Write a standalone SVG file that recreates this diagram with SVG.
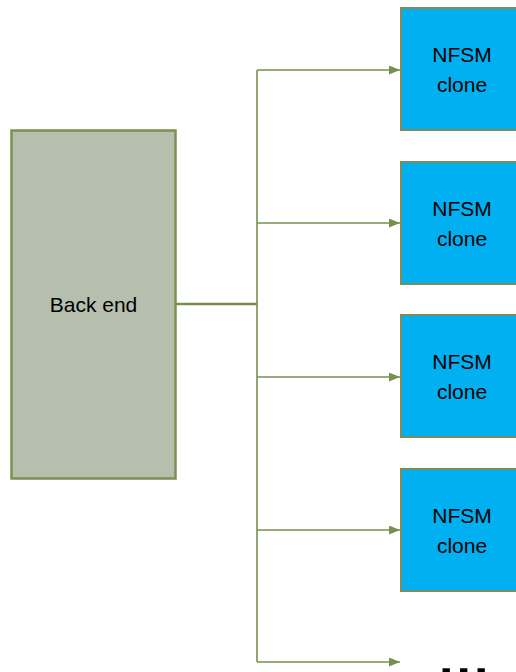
<svg xmlns="http://www.w3.org/2000/svg" width="516" height="672" viewBox="0 0 516 672">
  <defs>
    <marker id="arrow" viewBox="0 0 11 9" refX="11" refY="4.5" markerWidth="11" markerHeight="9" markerUnits="userSpaceOnUse" orient="auto">
      <path d="M0,0 L11,4.5 L0,9 Z" fill="#76904f"/>
    </marker>
    <style>
      .backend { fill: #b6bead; stroke: #7a9152; stroke-width: 2.5; }
      .clone { fill: #00b0f0; stroke: #7d8c5c; stroke-width: 2; }
      .label { font-family: "Liberation Sans", Arial, sans-serif; font-size: 21px; fill: #000; text-anchor: middle; }
      .wire { fill: none; stroke: #76904f; stroke-width: 1.6; }
      .feed { fill: none; stroke: #76904f; stroke-width: 2.6; }
    </style>
  </defs>

  <rect width="516" height="672" fill="#ffffff"/>

  <!-- connectors -->
  <g id="connectors">
    <line class="feed" x1="176" y1="304" x2="257" y2="304"/>
    <line class="wire" x1="257" y1="70" x2="257" y2="662"/>
    <line class="wire" x1="257" y1="70" x2="400" y2="70" marker-end="url(#arrow)"/>
    <line class="wire" x1="257" y1="223" x2="400" y2="223" marker-end="url(#arrow)"/>
    <line class="wire" x1="257" y1="377" x2="400" y2="377" marker-end="url(#arrow)"/>
    <line class="wire" x1="257" y1="530" x2="400" y2="530" marker-end="url(#arrow)"/>
    <line class="wire" x1="257" y1="662" x2="400" y2="662" marker-end="url(#arrow)"/>
  </g>

  <!-- back end -->
  <g id="backend">
    <rect class="backend" x="11.5" y="130.5" width="164" height="348"/>
    <text class="label" x="93.5" y="312" font-size="22">Back end</text>
  </g>

  <!-- clones -->
  <g id="clone1">
    <rect class="clone" x="401" y="8" width="124" height="122"/>
    <text class="label" x="462" y="62">NFSM</text>
    <text class="label" x="462" y="92">clone</text>
  </g>
  <g id="clone2">
    <rect class="clone" x="401" y="162" width="124" height="122"/>
    <text class="label" x="462" y="216">NFSM</text>
    <text class="label" x="462" y="246">clone</text>
  </g>
  <g id="clone3">
    <rect class="clone" x="401" y="315" width="124" height="122"/>
    <text class="label" x="462" y="369">NFSM</text>
    <text class="label" x="462" y="399">clone</text>
  </g>
  <g id="clone4">
    <rect class="clone" x="401" y="469" width="124" height="122"/>
    <text class="label" x="462" y="523">NFSM</text>
    <text class="label" x="462" y="553">clone</text>
  </g>

  <!-- more clones follow -->
  <g id="more">
    <text x="439" y="676" font-family="'Liberation Sans', Arial, sans-serif" font-size="52" font-weight="bold" letter-spacing="3" fill="#000">...</text>
  </g>
</svg>
